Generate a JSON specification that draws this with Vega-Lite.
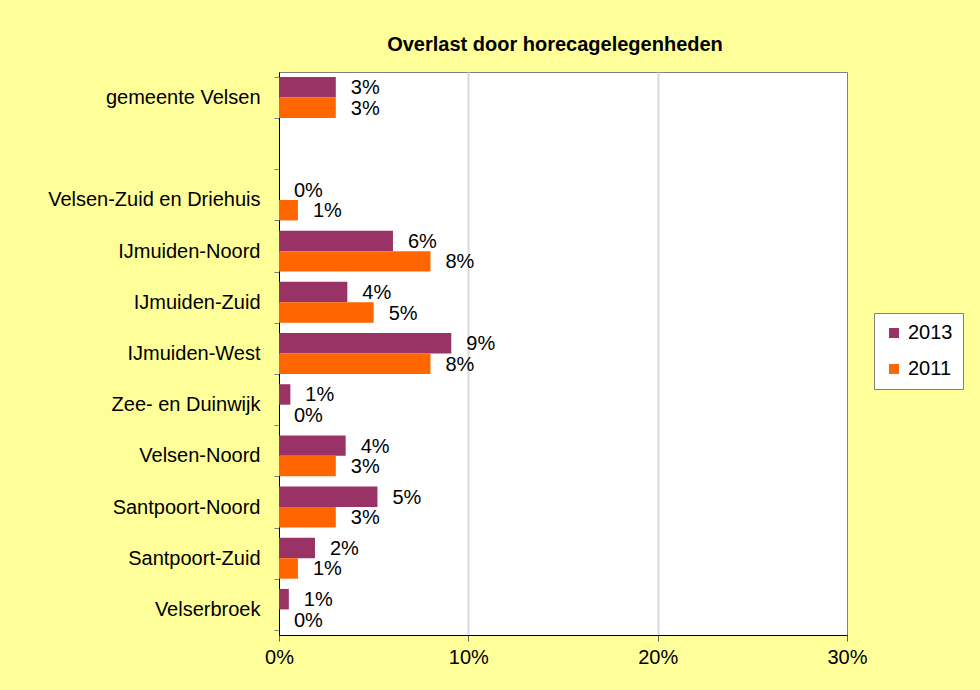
{
  "$schema": "https://vega.github.io/schema/vega-lite/v6.json",
  "width": 568,
  "height": 563,
  "autosize": {"type": "none"},
  "padding": {"left": 279, "top": 72, "right": 133, "bottom": 55},
  "background": "#FFFF99",
  "title": {
    "text": "Overlast door horecagelegenheden",
    "font": "Liberation Sans",
    "fontSize": 20,
    "fontWeight": "bold",
    "color": "#000000",
    "anchor": "middle",
    "dx": -8,
    "dy": 28,
    "baseline": "alphabetic",
    "offset": 19
  },
  "config": {
    "view": {"fill": "white", "stroke": "#808080", "strokeWidth": 1},
    "font": "Liberation Sans"
  },
  "data": {
    "values": [
      {"gebied": "gemeente Velsen", "jaar": "2013", "waarde": 0.030},
      {"gebied": "gemeente Velsen", "jaar": "2011", "waarde": 0.030},
      {"gebied": "Velsen-Zuid en Driehuis", "jaar": "2013", "waarde": 0.0},
      {"gebied": "Velsen-Zuid en Driehuis", "jaar": "2011", "waarde": 0.010},
      {"gebied": "IJmuiden-Noord", "jaar": "2013", "waarde": 0.0602},
      {"gebied": "IJmuiden-Noord", "jaar": "2011", "waarde": 0.080},
      {"gebied": "IJmuiden-Zuid", "jaar": "2013", "waarde": 0.0361},
      {"gebied": "IJmuiden-Zuid", "jaar": "2011", "waarde": 0.050},
      {"gebied": "IJmuiden-West", "jaar": "2013", "waarde": 0.091},
      {"gebied": "IJmuiden-West", "jaar": "2011", "waarde": 0.080},
      {"gebied": "Zee- en Duinwijk", "jaar": "2013", "waarde": 0.0060},
      {"gebied": "Zee- en Duinwijk", "jaar": "2011", "waarde": 0.0},
      {"gebied": "Velsen-Noord", "jaar": "2013", "waarde": 0.0352},
      {"gebied": "Velsen-Noord", "jaar": "2011", "waarde": 0.030},
      {"gebied": "Santpoort-Noord", "jaar": "2013", "waarde": 0.052},
      {"gebied": "Santpoort-Noord", "jaar": "2011", "waarde": 0.030},
      {"gebied": "Santpoort-Zuid", "jaar": "2013", "waarde": 0.019},
      {"gebied": "Santpoort-Zuid", "jaar": "2011", "waarde": 0.010},
      {"gebied": "Velserbroek", "jaar": "2013", "waarde": 0.0052},
      {"gebied": "Velserbroek", "jaar": "2011", "waarde": 0.0}
    ]
  },
  "encoding": {
    "y": {
      "field": "gebied",
      "type": "nominal",
      "sort": null,
      "scale": {
        "domain": ["gemeente Velsen", " ", "Velsen-Zuid en Driehuis", "IJmuiden-Noord", "IJmuiden-Zuid", "IJmuiden-West", "Zee- en Duinwijk", "Velsen-Noord", "Santpoort-Noord", "Santpoort-Zuid", "Velserbroek"],
        "paddingInner": 0.2,
        "paddingOuter": 0.1
      },
      "axis": {
        "title": null,
        "tickBand": "extent",
        "tickColor": "#808080",
        "tickSize": 5,
        "labelPadding": 14,
        "labelFont": "Liberation Sans",
        "labelFontSize": 20,
        "labelColor": "#000000",
        "labelLimit": 300,
        "domainColor": "#000000",
        "grid": false
      }
    },
    "yOffset": {
      "field": "jaar",
      "type": "nominal",
      "scale": {"domain": ["2013", "2011"], "paddingInner": 0, "paddingOuter": 0}
    },
    "x": {
      "field": "waarde",
      "type": "quantitative",
      "scale": {"domain": [0, 0.3], "nice": false, "zero": true},
      "axis": {
        "title": null,
        "format": ".0%",
        "values": [0, 0.1, 0.2, 0.3],
        "grid": true,
        "gridColor": "#D9D9D9",
        "gridWidth": 2,
        "gridOpacity": {"condition": {"test": "datum.value > 0.25 || datum.value < 0.05", "value": 0}, "value": 1},
        "domainColor": "#000000",
        "tickColor": "#606060",
        "tickSize": 6,
        "labelFlush": false,
        "labelFont": "Liberation Sans",
        "labelFontSize": 20,
        "labelColor": "#000000",
        "labelPadding": 6
      }
    }
  },
  "layer": [
    {
      "mark": {"type": "bar"},
      "encoding": {
        "color": {
          "field": "jaar",
          "type": "nominal",
          "scale": {"domain": ["2013", "2011"], "range": ["#993366", "#FF6600"]},
          "legend": {
            "orient": "none",
            "legendX": 595,
            "legendY": 241,
            "title": null,
            "symbolType": "square",
            "symbolSize": 100,
            "symbolStrokeWidth": 0,
            "labelFont": "Liberation Sans",
            "labelFontSize": 20,
            "labelColor": "#000000",
            "labelOffset": 4,
            "fillColor": "white",
            "strokeColor": "#808080",
            "padding": 10,
            "rowPadding": 16
          }
        }
      }
    },
    {
      "mark": {"type": "text", "align": "left", "baseline": "middle", "dx": 15, "dy": 1, "fontSize": 20, "font": "Liberation Sans", "color": "#000000"},
      "encoding": {
        "text": {"field": "waarde", "type": "quantitative", "format": ".0%"}
      }
    }
  ]
}
